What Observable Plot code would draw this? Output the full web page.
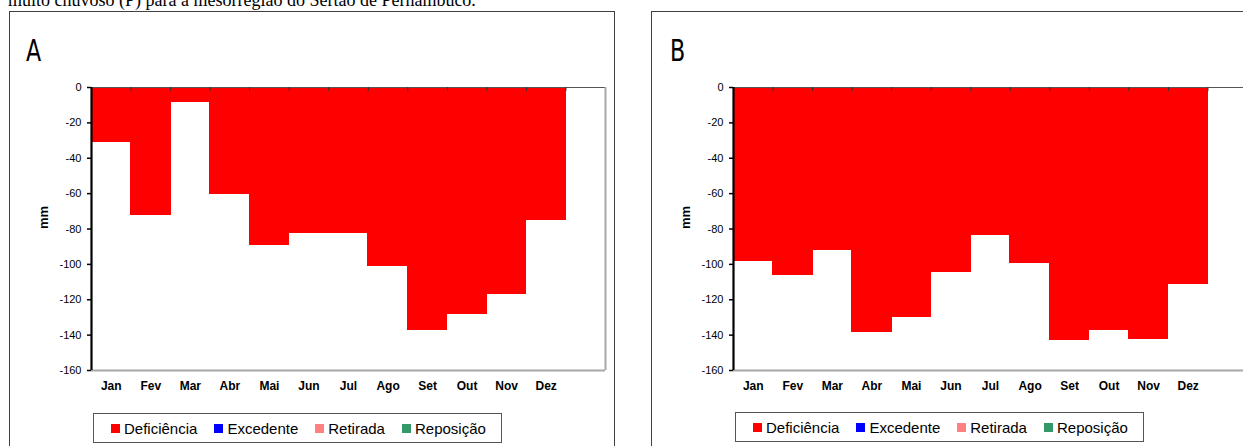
<!DOCTYPE html>
<html>
<head>
<meta charset="utf-8">
<script src="https://cdn.jsdelivr.net/npm/d3@7"></script>
<script src="https://cdn.jsdelivr.net/npm/@observablehq/plot@0.6"></script>
<style>
  html, body { margin: 0; padding: 0; background: #ffffff; overflow: hidden; width: 1243px; height: 446px; }
  body { position: relative; font-family: "Liberation Sans", Arial, sans-serif; }
  .panel { position: absolute; border: 1px solid #404040; box-sizing: border-box; height: 520px; }
  .tag { position: absolute; font-family: "Liberation Sans Narrow", "DejaVu Sans Condensed", "Liberation Sans", sans-serif;
         font-size: 30px; line-height: 30px; transform-origin: left top; transform: scaleX(0.82); color: #000; }
  .chart { position: absolute; top: 0; width: 620px; height: 400px; }
  .chart svg { max-width: none !important; }
  .legend { position: absolute; border: 1px solid #555; box-sizing: border-box; height: 30px; display: flex;
            align-items: center; padding-left: 17px; font-size: 15px; color: #000; background: #fff; white-space: nowrap; }
  .item { display: flex; align-items: center; margin-right: 17px; }
  .sw { width: 9px; height: 9px; margin-right: 4px; }
</style>
</head>
<body>
<svg style="position:absolute;left:0;top:0" width="1243" height="20">
  <text id="caption" x="8" y="5.5" font-family="Liberation Serif, Times New Roman, serif" font-size="18" fill="#000"></text>
</svg>
<div class="panel" style="left:9px;top:11px;width:606px;"></div>
<div class="panel" style="left:651px;top:11px;width:700px;"></div>
<div class="tag" id="tagA" style="left:26px;top:36px;"></div>
<div class="tag" id="tagB" style="left:670px;top:36px;"></div>
<div id="chartA" class="chart" style="left:0px;"></div>
<div id="chartB" class="chart" style="left:642px;"></div>
<div id="legendA" class="legend" style="left:93px;top:413px;width:409px;"></div>
<div id="legendB" class="legend" style="left:735px;top:412px;width:409px;"></div>
<script>
const captionText = "muito chuvoso (P) para a mesorregião do Sertão de Pernambuco.";
const panelTags = ["A", "B"];
const months = ["Jan", "Fev", "Mar", "Abr", "Mai", "Jun", "Jul", "Ago", "Set", "Out", "Nov", "Dez"];
const deficienciaA = [-31, -72, -8, -60, -89, -82.5, -82, -101, -137, -128, -117, -75];
const deficienciaB = [-98, -106, -92, -138, -129.5, -104.5, -83.5, -99.5, -143, -137, -142, -111];
const yTicks = [0, -20, -40, -60, -80, -100, -120, -140, -160];
const yLabel = "mm";
const legendLabels = ["Deficiência", "Excedente", "Retirada", "Reposição"];
const legendColors = ["#ff0000", "#0000ff", "#ff8080", "#339966"];

document.getElementById("caption").textContent = captionText;
document.getElementById("tagA").textContent = panelTags[0];
document.getElementById("tagB").textContent = panelTags[1];

const W = 620, H = 400, ML = 91, MR = 15, MT = 87, MB = 30;
const yMin = d3.min(yTicks), yMax = d3.max(yTicks);
const tickLen = 4 * (yMax - yMin) / (H - MT - MB);

function chart(values) {
  const data = values.map((v, i) => ({month: months[i], i, v}));
  const slots = months.length + 1;
  return Plot.plot({
    width: W, height: H,
    marginLeft: ML, marginRight: MR, marginTop: MT, marginBottom: MB,
    style: {background: "transparent", fontFamily: "Liberation Sans, Arial, sans-serif", overflow: "visible", color: "#000", maxWidth: "none"},
    x: {domain: [0, slots]},
    y: {domain: [yMin, yMax]},
    marks: [
      Plot.rectY(data, {x1: "i", x2: d => d.i + 1, y: "v", fill: "#ff0000", stroke: "#ff0000", strokeWidth: 1, shapeRendering: "crispEdges"}),
      Plot.ruleY([yMax], {stroke: "#555", strokeWidth: 1}),
      Plot.ruleY([yMin], {stroke: "#a8a8a8", strokeWidth: 2}),
      Plot.ruleX([slots], {stroke: "#a8a8a8", strokeWidth: 2}),
      Plot.ruleX(d3.range(1, months.length + 1), {y1: yMax, y2: yMax - tickLen, stroke: "#333", strokeWidth: 1}),
      Plot.ruleX([0], {stroke: "#000", strokeWidth: 2.2}),
      Plot.axisY({ticks: yTicks, tickSize: 4, tickPadding: 6, tickFormat: d => String(d), fontSize: 11, label: null, strokeWidth: 1.5}),
      Plot.axisX({anchor: "bottom", ticks: months.map((m, i) => i + 0.5), tickFormat: d => months[Math.floor(d)],
                  tickSize: 0, tickPadding: 11, fontSize: 12, fontWeight: "bold", label: null}),
      Plot.text([yLabel], {frameAnchor: "left", dx: -48, rotate: -90, fontWeight: "bold", fontSize: 13})
    ]
  });
}

document.getElementById("chartA").appendChild(chart(deficienciaA));
document.getElementById("chartB").appendChild(chart(deficienciaB));

function legend(id) {
  const el = document.getElementById(id);
  legendLabels.forEach((lab, k) => {
    const it = document.createElement("div");
    it.className = "item";
    const sw = document.createElement("div");
    sw.className = "sw";
    sw.style.background = legendColors[k];
    const tx = document.createElement("span");
    tx.textContent = lab;
    it.appendChild(sw);
    it.appendChild(tx);
    el.appendChild(it);
  });
}
legend("legendA");
legend("legendB");
</script>
</body>
</html>
